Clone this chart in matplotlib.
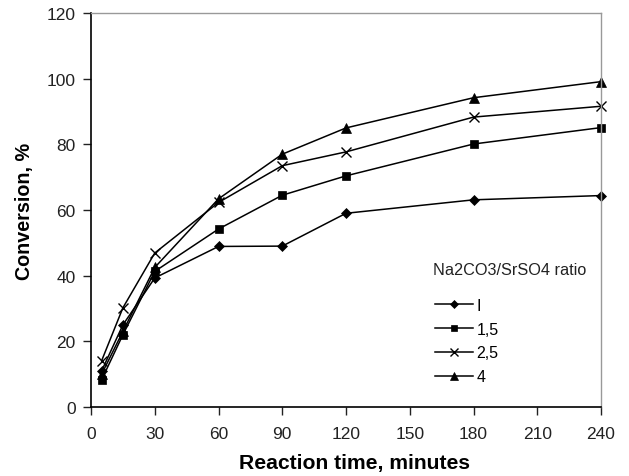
import matplotlib
matplotlib.use("Agg")
import matplotlib.pyplot as plt

plt.rcParams["font.family"] = ["Liberation Sans", "DejaVu Sans"]

time_min = [5, 15, 30, 60, 90, 120, 180, 240]
conv_1 = [11, 25, 39.3, 48.9, 49, 59, 63.1, 64.4]
conv_15 = [8.3, 22, 41.3, 54.2, 64.5, 70.4, 80.1, 85.1]
conv_25 = [14.1, 30.2, 46.9, 62.3, 73.5, 77.7, 88.3, 91.6]
conv_4 = [10, 23, 42.5, 63.4, 77, 85, 94.2, 99.1]

series_labels = ["I", "1,5", "2,5", "4"]
x_ticks = [0, 30, 60, 90, 120, 150, 180, 210, 240]
y_ticks = [0, 20, 40, 60, 80, 100, 120]

fig = plt.figure(figsize=(6.29, 4.77), dpi=100)
ax = fig.add_axes([0.1447, 0.1447, 0.8108, 0.8259])

styles = [("D", 5.5), ("s", 5.5), ("x", 7), ("^", 6.5)]
for ys, lab, (mk, ms) in zip([conv_1, conv_15, conv_25, conv_4], series_labels, styles):
    ax.plot(time_min, ys, color="black", lw=1.1, marker=mk, markersize=ms,
            markeredgewidth=1.0 if mk == "x" else 0.5, label=lab, clip_on=False)

ax.set_xlim(0, 240)
ax.set_ylim(0, 120)
ax.set_xticks(x_ticks)
ax.set_yticks(y_ticks)
ax.tick_params(direction="out", length=6, width=1, labelsize=12.5, colors="#222222")
ax.tick_params(axis="x", pad=8)
ax.tick_params(axis="y", pad=5)

for side in ["top", "right"]:
    ax.spines[side].set_color("#999999")
    ax.spines[side].set_linewidth(1.0)
for side in ["left", "bottom"]:
    ax.spines[side].set_color("black")
    ax.spines[side].set_linewidth(1.2)

ax.set_xlabel("Reaction time, minutes", fontsize=15.2, fontweight="bold")
ax.set_ylabel("Conversion, %", fontsize=14.2, fontweight="bold", labelpad=9)
ax.xaxis.set_label_coords(0.516, -0.117)

# legend title drawn as plain text so the gap below it can match
ax.text(0.671, 0.350, "Na2CO3/SrSO4 ratio", transform=ax.transAxes,
        fontsize=11.7, ha="left", va="center", color="#222222")
ax.legend(loc="upper left", bbox_to_anchor=(0.674, 0.277), frameon=False,
          fontsize=11.5, handlelength=2.4, handletextpad=0.2,
          labelspacing=0.55, borderpad=0, borderaxespad=0, markerscale=0.8)

fig.savefig("out.png", dpi=100)
